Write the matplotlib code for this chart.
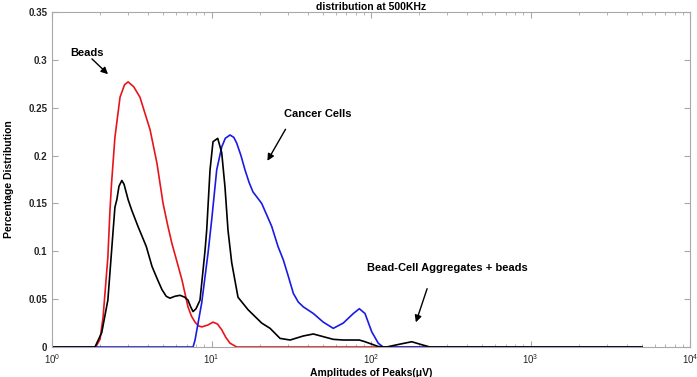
import matplotlib
matplotlib.use("Agg")
import matplotlib.pyplot as plt
from matplotlib.ticker import FormatStrFormatter, LogLocator

plt.rcParams['font.family'] = ['Liberation Sans', 'DejaVu Sans']
plt.rcParams['mathtext.default'] = 'bf'

# Beads (red)
beads_x = [1, 1.88, 2.0, 2.09, 2.24, 2.31, 2.36, 2.48, 2.67, 2.85, 3.0, 3.25, 3.56, 4.12,
           4.55, 4.97, 5.3, 5.65, 6.1, 6.53, 7.12, 7.5, 7.88, 8.3, 8.7, 9.5, 10.22, 10.9,
           11.59, 12.3, 13.06, 14.4, 5000]
beads_y = [0, 0, 0.008, 0.031, 0.094, 0.143, 0.17, 0.219, 0.261, 0.274, 0.277, 0.272, 0.261, 0.227,
           0.192, 0.15, 0.128, 0.108, 0.088, 0.07, 0.042, 0.032, 0.026, 0.022, 0.021, 0.023, 0.026, 0.024,
           0.018, 0.01, 0.004, 0, 0]

# Mixture (black)
mix_x = [1, 1.86, 2.05, 2.24, 2.41, 2.48, 2.55, 2.63, 2.74, 2.83, 3.0, 3.16, 3.46, 3.9, 4.24,
         4.6, 4.89, 5.2, 5.49, 5.9, 6.35, 6.8, 7.12, 7.4, 7.66, 8.0, 8.47, 9.10, 9.33, 9.79,
         10.22, 10.94, 11.59, 12.15, 12.69, 13.39, 14.66, 16.94, 20.64, 23.3, 26.9, 31.1,
         37.6, 43.5, 50.2, 58.0, 67.0, 84.5, 91.7, 101, 111, 125, 152, 180, 212, 234, 5000]
mix_y = [0, 0, 0.015, 0.049, 0.119, 0.146, 0.154, 0.168, 0.174, 0.17, 0.154, 0.143, 0.126, 0.105, 0.084,
         0.07, 0.060, 0.053, 0.051, 0.053, 0.054, 0.052, 0.049, 0.042, 0.037, 0.04, 0.049, 0.10, 0.122, 0.185,
         0.2145, 0.218, 0.203, 0.167, 0.122, 0.088, 0.052, 0.039, 0.025, 0.0195, 0.009, 0.0073,
         0.0115, 0.0136, 0.0108, 0.008, 0.0073, 0.0073, 0.0055, 0.003, 0.0005, 0, 0.003, 0.0055, 0.002, 0, 0]

# Cancer cells (blue)
cells_x = [1, 7.66, 7.88, 8.68, 9.51, 10.03, 10.78, 11.59, 12.2, 13.06, 13.8, 14.39, 15.3,
           16.22, 17.2, 18.2, 19.4, 20.64, 22.19, 23.85, 26.12, 28.2, 30.17, 32.6, 35.0,
           37.6, 43.5, 50.2, 58.0, 67.0, 77.5, 84.5, 91.7, 101, 111, 119, 5000]
cells_y = [0, 0, 0.007, 0.046, 0.098, 0.133, 0.185, 0.209, 0.218, 0.2215, 0.219, 0.213, 0.2,
           0.185, 0.172, 0.162, 0.156, 0.150, 0.138, 0.126, 0.105, 0.091, 0.075, 0.056, 0.047,
           0.042, 0.035, 0.026, 0.0195, 0.025, 0.035, 0.040, 0.035, 0.016, 0.004, 0, 0]

y_ticks = [0, 0.05, 0.1, 0.15, 0.2, 0.25, 0.3, 0.35]

fig = plt.figure(figsize=(6.97, 3.77), dpi=100)
ax = fig.add_axes([52/697, 1-347/377, (690-52)/697, (347-12)/377])

ax.plot(beads_x, beads_y, color='#e8141c', lw=1.2)
ax.plot(cells_x, cells_y, color='#1a1ae6', lw=1.2)
ax.plot(mix_x, mix_y, color='black', lw=1.2)

ax.set_xscale('log')
ax.set_xlim(1, 1e4)
ax.set_ylim(0, 0.35)
ax.set_yticks(y_ticks)
ax.yaxis.set_major_formatter(FormatStrFormatter('%g'))
ax.xaxis.set_minor_locator(LogLocator(base=10, subs=range(2, 10), numticks=20))

for s in ax.spines.values():
    s.set_color('#a8a8a8')
    s.set_linewidth(0.8)
ax.tick_params(which='both', direction='in', top=True, right=True, color='#a8a8a8',
               labelsize=7, labelcolor='#262626')
ax.tick_params(which='major', length=4)
ax.tick_params(which='minor', length=2)
for lab in ax.get_yticklabels():
    lab.set_fontweight('bold')

ax.set_xlabel('Amplitudes of Peaks(μV)', fontsize=7.5, fontweight='bold', labelpad=2)
ax.set_ylabel('Percentage Distribution', fontsize=7.5, fontweight='bold', labelpad=10)
ax.set_title('distribution at 500KHz', fontsize=7.5, fontweight='bold', pad=0)

arrow = dict(arrowstyle='-|>', color='black', lw=1.0, mutation_scale=10)
ax.text(1.297, 0.307, 'Beads', fontsize=8, fontweight='bold', va='center', ha='left')
ax.annotate('', xy=(2.31, 0.283), xytext=(1.73, 0.303), arrowprops=arrow)
ax.text(28.5, 0.2435, 'Cancer Cells', fontsize=8, fontweight='bold', va='center', ha='left')
ax.annotate('', xy=(21.97, 0.192), xytext=(29.7, 0.230), arrowprops=arrow)
ax.text(94.4, 0.0825, 'Bead-Cell Aggregates + beads', fontsize=8, fontweight='bold',
        va='center', ha='left')
ax.annotate('', xy=(188.7, 0.023), xytext=(227.7, 0.0637), arrowprops=arrow)

fig.savefig('out.png', dpi=100)
